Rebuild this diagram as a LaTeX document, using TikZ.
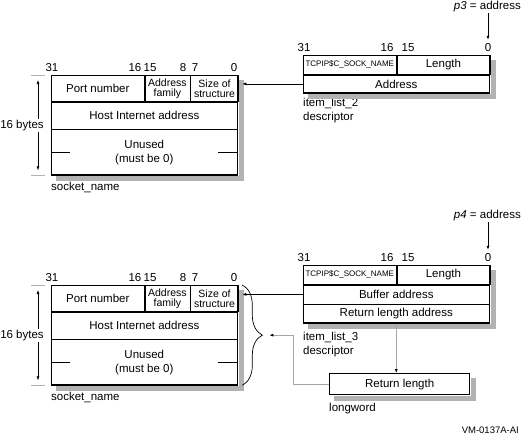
\documentclass[tikz,border=0pt]{standalone}
\usepackage{fontspec}
\setmainfont{Liberation Sans}
\usetikzlibrary{positioning,arrows.meta,calc,decorations.pathreplacing}

% one socket_name structure: #1 = name suffix, #2 = top edge
\newcommand{\sockbox}[2]{%
  \node[frame, minimum width=186pt, minimum height=99pt] (sock#1) at (51,#2) {};
  \node[cell, minimum width=93pt, minimum height=26pt] (port#1) at (sock#1.north west) {Port number};
  \node[cell, small, minimum width=45pt, minimum height=26pt, right=0pt of port#1] (fam#1) {Address\\family};
  \node[cell, small, minimum width=48pt, minimum height=26pt, right=0pt of fam#1] (size#1) {Size of\\structure};
  \node[cell, minimum width=186pt, minimum height=27pt] (host#1) at (port#1.south west) {Host Internet address};
  \node[cell, minimum width=186pt, minimum height=46pt, font=\fontsize{11.5}{14}\selectfont] (unused#1) at (host#1.south west) {Unused\\(must be 0)};
  \draw[line width=0.6pt] (unused#1.west) -- ++(19,0) (unused#1.east) -- ++(-20,0);
  \foreach \dx/\b in {1/31,84/16,99/15,132/8,144/7,183/0}
    \node[bit] (b#1-\b) at ($(sock#1.north west)+(\dx,-4)$) {\b};
  % 16 bytes dimension
  \coordinate (dt#1) at ($(sock#1.north west)+(-13,0)$);
  \coordinate (db#1) at ($(sock#1.south west)+(-13,0)$);
  \draw[dim] ([xshift=-7pt]dt#1) -- ([xshift=7pt]dt#1);
  \draw[dim] ([xshift=-7pt]db#1) -- ([xshift=7pt]db#1);
  \draw[<->, line width=0.6pt, shorten <=5pt, shorten >=5pt] (dt#1) -- (db#1);
  \node[fill=white, inner sep=1pt, font=\fontsize{11.5}{13}\selectfont] (bytes#1) at ($(sock#1.west)+(-29,0)$) {16 bytes};
  \node[below=7pt of sock#1.south west, lbl] (sn#1) {socket\_name};
}

\begin{document}
\begin{tikzpicture}[
  x=1pt, y=-1pt, >={Latex[length=4pt,width=3pt]},
  frame/.style={draw, line width=1.3pt, inner sep=0pt, anchor=north west,
    font=\fontsize{11.5}{13}\selectfont},
  boxshadow/.style={fill=black!30},
  cell/.style={draw, line width=0.6pt, inner sep=0pt, align=center, anchor=north west,
    font=\fontsize{11.5}{13}\selectfont},
  small/.style={font=\fontsize{10.5}{10}\selectfont},
  code/.style={font=\fontsize{8}{10}\selectfont},
  bit/.style={anchor=base, inner sep=0pt, font=\fontsize{11.5}{13}\selectfont},
  lbl/.style={anchor=north west, inner sep=0pt, align=left, font=\fontsize{11.5}{14}\selectfont},
  dim/.style={draw=gray!60, line width=1pt},
  link/.style={->, line width=0.7pt},
  glink/.style={-{Latex[length=4pt,width=3pt,color=black]}, draw=gray!70, line width=0.9pt},
]
  \useasboundingbox (0,0) rectangle (522,439);

  % upper half: item_list_2
  \sockbox{1}{75}
  \node[frame, minimum width=186pt, minimum height=37pt] (il2) at (303,55) {};
  \node[cell, code, minimum width=93pt, minimum height=19pt] (code2) at (il2.north west) {TCPIP\$C\_SOCK\_NAME};
  \node[cell, minimum width=93pt, minimum height=19pt, right=0pt of code2] (len2) {Length};
  \node[cell, minimum width=186pt, minimum height=18pt] (addr2) at (code2.south west) {Address};
  \foreach \dx/\b in {1/31,84/16,105/15,185/0}
    \node[bit] (c2-\b) at ($(il2.north west)+(\dx,-4)$) {\b};
  \node[below=5pt of il2.south west, lbl] (d2) {item\_list\_2\\descriptor};
  \node[anchor=east, inner sep=0pt, font=\fontsize{11.5}{13}\selectfont] (p3) at (521,7) {\textit{p3} = address};

  % lower half: item_list_3
  \sockbox{2}{285}
  \node[frame, minimum width=186pt, minimum height=57pt] (il3) at (303,265) {};
  \node[cell, code, minimum width=93pt, minimum height=19pt] (code3) at (il3.north west) {TCPIP\$C\_SOCK\_NAME};
  \node[cell, minimum width=93pt, minimum height=19pt, right=0pt of code3] (len3) {Length};
  \node[cell, minimum width=186pt, minimum height=19pt] (buf3) at (code3.south west) {Buffer address};
  \node[cell, minimum width=186pt, minimum height=19pt] (rla3) at (buf3.south west) {Return length address};
  \foreach \dx/\b in {1/31,84/16,105/15,185/0}
    \node[bit] (c3-\b) at ($(il3.north west)+(\dx,-4)$) {\b};
  \node[below=9pt of il3.south west, lbl] (d3) {item\_list\_3\\descriptor};
  \node[anchor=east, inner sep=0pt, font=\fontsize{11.5}{13}\selectfont] (p4) at (521,216) {\textit{p4} = address};

  \node[frame, minimum width=140pt, minimum height=21pt] (ret) at (329,373) {Return length};
  \node[below=8pt of ret.south west, lbl] (lw) {longword};

  \node[anchor=east, inner sep=0pt, font=\fontsize{9.5}{11}\selectfont] (vm) at (519,430) {VM-0137A-AI};

  % drop shadows: strips along the right and bottom edges
  \foreach \n in {sock1,sock2,il2,il3,ret} {
    \fill[boxshadow] ($(\n.north east)+(0.7,5)$) rectangle ($(\n.south east)+(5.7,5.7)$);
    \fill[boxshadow] ($(\n.south west)+(5,0.7)$) rectangle ($(\n.south east)+(5.7,5.7)$);
  }

  % connectors
  \draw[link] (c2-0 |- p3.south) -- ([yshift=3pt]c2-0.north);
  \coordinate (in2) at ([xshift=4pt]sock1.east |- addr2.west);
  \draw[link] (addr2.west) -- (in2);
  \draw[link] (c3-0 |- p4.south) -- ([yshift=3pt]c3-0.north);
  \coordinate (in3) at ([xshift=4pt]sock2.east |- buf3.west);
  \draw[link] (buf3.west) -- (in3);
  \draw[decorate, decoration={brace, amplitude=20pt}, line width=0.7pt]
    ([xshift=4pt]sock2.north east) -- ([xshift=4pt]sock2.south east);
  \coordinate (gend) at ([xshift=31pt]sock2.east);
  \draw[glink] (rla3.south) -- (rla3.south |- ret.north);
  \draw[glink] (ret.west) -- ++(-36,0) |- (gend);
\end{tikzpicture}
\end{document}
